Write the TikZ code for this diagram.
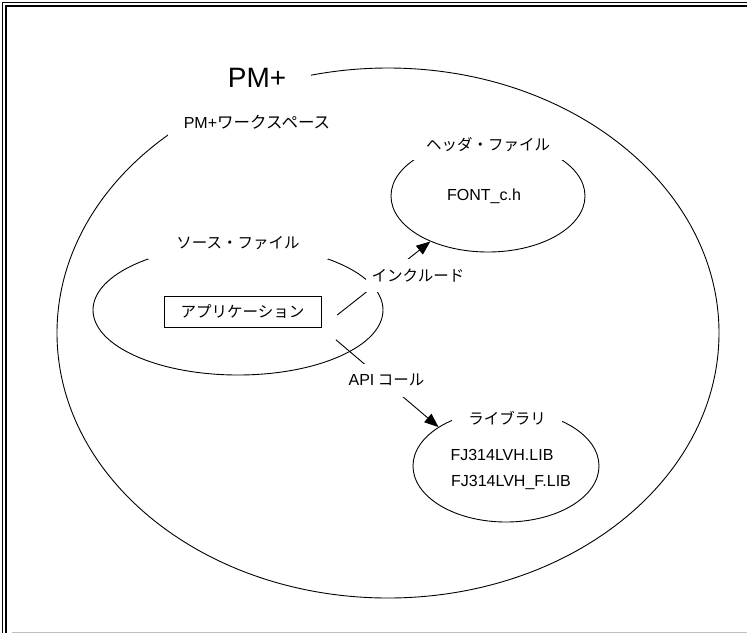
\documentclass[tikz,border=0pt]{standalone}
\usepackage{fontspec}
\newfontfamily\jp{Noto Sans CJK JP}
\newfontfamily\lat{Liberation Sans}
\usetikzlibrary{shapes.geometric,arrows.meta}
\begin{document}
\begin{tikzpicture}[x=1pt,y=-1pt,
  oval/.style={draw, ellipse, line width=0.9pt, inner sep=0pt},
  lbl/.style={fill=white, inner sep=0pt, font=\jp\fontsize{15.5}{18}\selectfont},
  latf/.style={font=\lat\fontsize{16}{19}\selectfont},
  conn/.style={line width=0.9pt, -{Triangle[length=14pt,width=11pt]}},
  appbox/.style={draw, line width=0.9pt, minimum width=157pt, minimum height=31pt, inner sep=0pt, font=\jp\fontsize{15.5}{18}\selectfont}
]
\useasboundingbox (0,0) rectangle (747,633);
\fill[white] (0,0) rectangle (747,633);
% frame
\draw[line width=1pt] (747,2.5) -- (2.5,2.5) -- (2.5,633);
\draw[line width=1.8pt] (747,6) -- (6,6) -- (6,633);
\draw[gray!50, line width=1pt] (12,632) -- (747,632);
% ellipses
\node[oval, minimum width=662pt, minimum height=530pt] (ws) at (388,333) {};
\node[oval, minimum width=194pt, minimum height=112pt] (hdr) at (488,196) {};
\node[oval, minimum width=290pt, minimum height=130pt] (src) at (238,310) {};
\node[oval, minimum width=186pt, minimum height=112pt] (lib) at (506,466) {};
% application box
\node[appbox] (app) at (242.5,311.5) {アプリケーション};
% connectors
\draw[conn, shorten <=20pt] (app.south east) -- (hdr);
\draw[conn, shorten <=19pt] (app.south east) -- (lib.150);
% labels
\node[lbl, minimum width=108pt, minimum height=44pt, font=\lat\fontsize{28}{31}\selectfont] (pm) at (257,78) {PM+};
\node[lbl, minimum width=178pt, minimum height=44pt, font=\jp\fontsize{16.5}{19}\selectfont] (wsl) at (257,122) {{\lat\fontsize{16}{19}\selectfont PM+}ワークスペース};
\node[lbl, minimum width=152pt, minimum height=30pt] (hdrl) at (488,145) {ヘッダ・ファイル};
\node[latf] (font) at (484,196) {FONT\_c.h};
\node[lbl, minimum width=180pt, minimum height=32pt] (srcl) at (238,243) {ソース・ファイル};
\node[lbl, minimum width=104pt, minimum height=33pt] (inc) at (418,275.5) {インクルード};
\node[lbl, minimum width=90pt, minimum height=33pt] (api) at (386.5,380) {{\lat\fontsize{16}{19}\selectfont API} コール};
\node[lbl, minimum width=110pt, minimum height=18pt] (libl) at (507,418) {ライブラリ};
\node[latf] (lib1) at (502,455) {FJ314LVH.LIB};
\node[latf] (lib2) at (511,482) {FJ314LVH\_F.LIB};
\end{tikzpicture}
\end{document}
